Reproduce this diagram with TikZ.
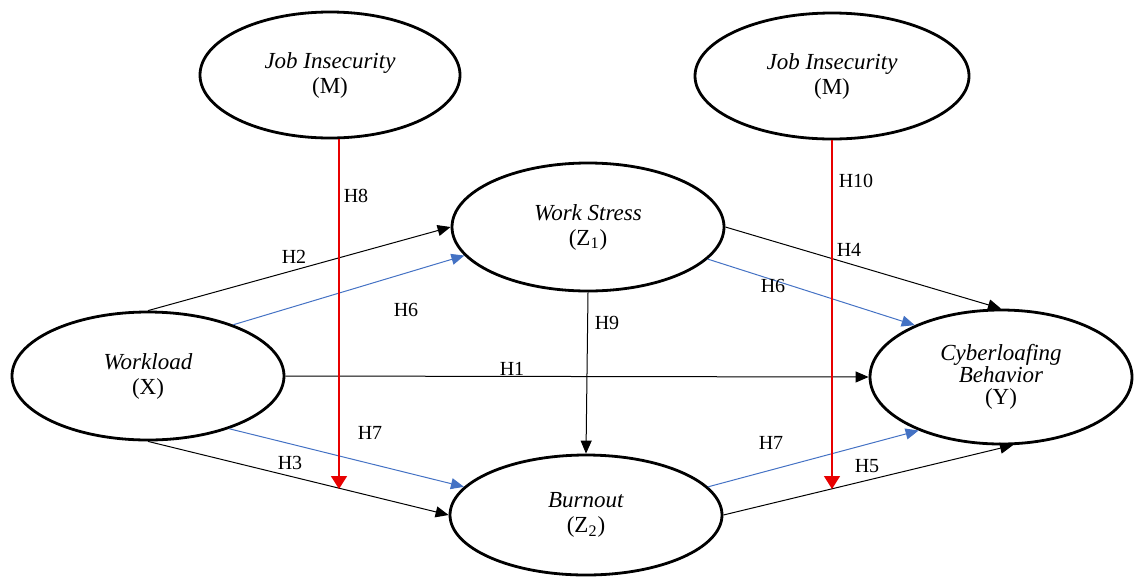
\documentclass[tikz,border=0pt]{standalone}
\usepackage{fontspec}
\setmainfont{Liberation Serif}
\usetikzlibrary{shapes.geometric,arrows.meta}
\definecolor{medblue}{RGB}{68,114,196}
\definecolor{modred}{RGB}{232,0,0}

\begin{document}
\begin{tikzpicture}[x=0.5pt,y=-0.5pt,
  latent/.style={ellipse,draw,line width=1.4pt,inner sep=0pt,align=center,font=\fontsize{11.5}{12.5}\selectfont},
  hyp/.style={-{Triangle[length=6.5pt,width=5.5pt]},line width=0.5pt},
  med/.style={hyp,medblue},
  mod/.style={-{Triangle[length=6.5pt,width=8pt]},line width=0.8pt,modred},
  lab/.style={font=\fontsize{10}{12}\selectfont}]
\useasboundingbox (0,0) rectangle (1134,579);
\node [latent,minimum width=130pt,minimum height=63pt] (ji1) at (330,75) {\textit{Job Insecurity}\\(M)};
\node [latent,minimum width=137pt,minimum height=63pt] (ji2) at (832,76) {\textit{Job Insecurity}\\(M)};
\node [latent,minimum width=136pt,minimum height=64pt] (ws) at (588,227) {\textit{Work Stress}\\(Z\textsubscript{1})};
\node [latent,minimum width=136pt,minimum height=64pt] (wl) at (148,376) {\textit{Workload}\\(X)};
\node [latent,minimum width=131pt,minimum height=67pt,font=\fontsize{11.5}{11}\selectfont] (cb) at (1001,377) {\textit{Cyberloafing}\\\textit{Behavior}\\(Y)};
\node [latent,minimum width=136pt,minimum height=60pt] (bo) at (586,515) {\textit{Burnout}\\(Z\textsubscript{2})};

\draw [hyp] (wl.east) -- (cb.west);
\draw [hyp] (wl.north) -- (ws.west);
\draw [med] (wl.31) -- (ws.193);
\draw [hyp] (wl.south) -- (bo.west);
\draw [med] (wl.-33) -- (bo.167);
\draw [hyp] (ws.south) -- (bo.north);
\draw [hyp] (ws.east) -- (cb.north);
\draw [med] (ws.-15) -- (cb.149);
\draw [med] (bo.13) -- (cb.213);
\draw [hyp] (bo.east) -- (cb.-80);

\coordinate (h8tip) at (339,489);
\coordinate (h10tip) at (832,489);
\draw [mod] (ji1.south -| h8tip) -- (h8tip);
\draw [mod] (ji2.south) -- (h10tip);

\node [lab] (h1) at (512,369) {H1};
\node [lab] (h2) at (294,257) {H2};
\node [lab] (h3) at (290,463) {H3};
\node [lab] (h4) at (849,250) {H4};
\node [lab] (h5) at (867,466) {H5};
\node [lab] (h6a) at (406,310) {H6};
\node [lab] (h6b) at (773,286) {H6};
\node [lab] (h7a) at (370,433) {H7};
\node [lab] (h7b) at (771,443) {H7};
\node [lab] (h8) at (356,196) {H8};
\node [lab] (h9) at (607,323) {H9};
\node [lab] (h10) at (856,181) {H10};
\end{tikzpicture}
\end{document}
